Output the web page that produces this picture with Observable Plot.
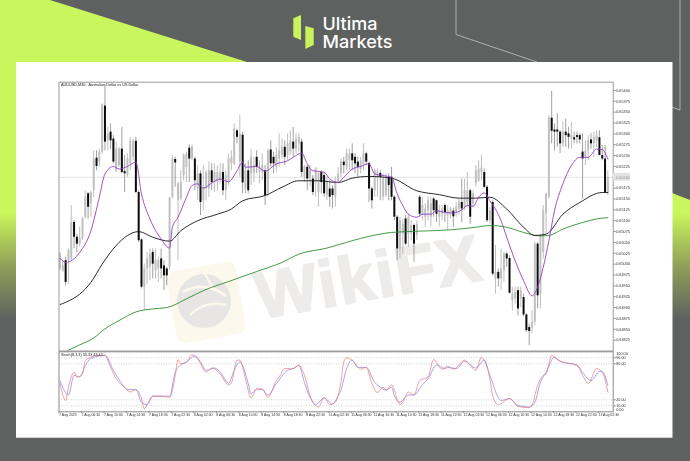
<!DOCTYPE html>
<html><head><meta charset="utf-8">
<style>
html,body{margin:0;padding:0;background:#5f6060;width:690px;height:461px;overflow:hidden}
.layer{position:absolute;left:0;top:0}
#top svg,#bot svg{filter:blur(.3px)}
</style>
<script src="https://cdn.jsdelivr.net/npm/d3@7"></script>
<script src="https://cdn.jsdelivr.net/npm/@observablehq/plot@0.6"></script>
</head><body>
<svg class="layer" width="690" height="461" viewBox="0 0 690 461">
  <defs><linearGradient id="g" gradientUnits="userSpaceOnUse" x1="0" x2="0" y1="213" y2="320">
    <stop offset="0" stop-color="#c9f65c"/><stop offset=".5" stop-color="#8f9f58"/><stop offset="1" stop-color="#5f6060"/></linearGradient></defs>
  <polygon points="0,0 50,0 247,62 16,62 16,330 0,330" fill="url(#g)"/>
  <polygon points="672,193 690,200 690,330 672,330" fill="url(#g)"/>
  <polyline points="456,0 456,34.5 537,62" fill="none" stroke="#c4c4c4" stroke-width=".8"/>
  <polyline points="672,107 680,110 680,0" fill="none" stroke="#c4c4c4" stroke-width=".8"/>
  <polygon points="293.3,18.3 301,15 301,40 293.3,36.7" fill="#c9f25c"/>
  <polygon points="305.3,26 313.7,28.3 313.7,45 305.3,49" fill="#c9f25c"/>
  <text x="322.5" y="30" font-family="Inter" font-weight="500" font-size="17.5" textLength="55" lengthAdjust="spacingAndGlyphs" fill="#fff">Ultima</text>
  <text x="322.5" y="47.7" font-family="Inter" font-weight="500" font-size="17.5" textLength="70" lengthAdjust="spacingAndGlyphs" fill="#fff">Markets</text>
  <rect x="16" y="62" width="656.5" height="375.7" fill="#fff"/>
  <rect x="171" y="266" width="70" height="73" rx="8" fill="#fcf8ec" transform="rotate(-10 206 302)"/>
  <circle cx="204" cy="301" r="27" fill="#e8e6e5"/>
  <path d="M183 292 Q205 280 226 296 M190 315 Q205 300 226 305 M205 274 L214 290" fill="none" stroke="#fcf8ec" stroke-width="2.5"/>
  <text x="260" y="319" transform="rotate(-10 260 319)" font-family="Liberation Sans" font-weight="700" font-size="66" letter-spacing="1.5" fill="#eeecea" stroke="#eeecea" stroke-width="2" stroke-linejoin="round">WikiFX</text>
</svg>
<div id="top" class="layer"></div>
<div id="bot" class="layer"></div>
<script>
const opens=[64989,64985,65008,65008,65012,65096,65062,65046,65058,65108,
65162,65139,65169,65244,65235,65258,65364,65284,65304,65288,
65215,65227,65265,65213,65204,65231,65246,65283,65165,65056,
64947,64989,64993,65027,64985,64989,65012,64996,64989,64993,
65154,65241,65146,65150,65204,65223,65267,65242,65242,65173,
65208,65146,65173,65173,65215,65188,65188,65192,65211,65169,
65188,65231,65231,65307,65235,65297,65173,65215,65208,65208,
65246,65211,65211,65215,65162,65263,65246,65223,65242,65250,
65269,65250,65258,65281,65265,65277,65281,65200,65223,65196,
65196,65192,65165,65211,65204,65158,65173,65173,65154,65188,
65208,65235,65223,65238,65254,65246,65235,65219,65227,65254,
65232,65173,65169,65200,65209,65154,65158,65200,65200,65154,
65108,65035,65069,65104,65069,65069,65089,65066,65154,65115,
65108,65123,65108,65150,65146,65108,65115,65135,65112,65115,
65122,65119,65127,65142,65131,65142,65169,65139,65185,65192,
65211,65211,65177,65100,65142,64966,64981,64966,64985,65023,
65013,64916,64920,64939,64920,64923,64883,64854,64853,64866,
65046,64931,65027,65115,65154,65336,65309,65309,65304,65277,
65304,65300,65288,65291,65296,65296,65258,65246,65261,65286,
65277,65284,65291,65250,65242,65165];
const highs=[65027,65008,65016,65035,65135,65100,65069,65085,65108,65169,
65165,65168,65261,65261,65265,65369,65411,65315,65323,65296,
65281,65269,65315,65250,65254,65292,65288,65292,65169,65058,
65000,65027,65035,65035,65035,65016,65035,65008,64993,65154,
65250,65246,65188,65215,65254,65258,65275,65273,65246,65227,
65215,65227,65215,65235,65231,65231,65227,65231,65231,65215,
65254,65261,65323,65311,65342,65304,65231,65238,65265,65246,
65261,65238,65254,65227,65265,65284,65258,65269,65300,65288,
65284,65300,65307,65315,65300,65300,65288,65227,65227,65227,
65204,65223,65211,65215,65211,65200,65192,65181,65200,65223,
65242,65246,65265,65265,65277,65254,65246,65246,65277,65258,
65235,65177,65219,65219,65215,65208,65208,65208,65223,65158,
65112,65108,65104,65112,65115,65100,65092,65100,65158,65154,
65139,65154,65154,65154,65148,65135,65135,65139,65135,65131,
65129,65142,65150,65196,65196,65211,65173,65169,65227,65238,
65250,65219,65181,65131,65146,65043,64989,65035,65027,65027,
65019,64947,64947,64947,64947,64931,64885,64862,64893,65050,
65050,65069,65135,65163,65342,65398,65323,65346,65307,65327,
65334,65315,65327,65304,65304,65300,65300,65284,65296,65300,
65304,65307,65307,65273,65273,65215];
const lows=[64985,64981,64950,64954,65008,65035,65027,65039,65054,65104,
65104,65108,65154,65215,65223,65254,65261,65261,65265,65231,
65211,65223,65208,65165,65200,65215,65238,65162,65050,64943,
64893,64954,64962,64966,64966,64958,64966,64939,64950,64985,
65150,65177,65008,65146,65192,65188,65188,65238,65169,65146,
65112,65123,65146,65154,65169,65165,65169,65185,65158,65146,
65181,65215,65227,65277,65200,65162,65162,65162,65181,65188,
65208,65185,65192,65135,65154,65223,65208,65211,65223,65242,
65227,65238,65250,65246,65254,65258,65200,65188,65169,65177,
65158,65154,65131,65162,65154,65146,65131,65127,65131,65185,
65200,65208,65215,65215,65215,65208,65200,65208,65215,65227,
65142,65127,65154,65154,65146,65146,65154,65146,65146,65100,
65008,65012,65023,65043,65039,65054,65004,65054,65108,65100,
65085,65100,65085,65108,65096,65085,65100,65096,65077,65104,
65085,65108,65112,65096,65123,65131,65092,65131,65177,65188,
65192,65173,65096,65092,64973,64931,64947,64939,64958,64993,
64931,64893,64908,64881,64900,64879,64843,64812,64839,64858,
64897,64897,65012,65069,65150,65277,65261,65269,65255,65269,
65269,65265,65265,65277,65277,65277,65150,65227,65238,65265,
65246,65269,65250,65238,65162,65158];
const closes=[65023,64996,64958,65031,65096,65062,65046,65060,65104,65154,
65131,65165,65242,65225,65258,65367,65281,65300,65284,65235,
65265,65265,65211,65208,65242,65282,65283,65165,65054,64947,
64989,65012,65023,65000,65008,65008,64989,64973,64973,65152,
65242,65233,65185,65188,65251,65254,65242,65269,65192,65208,
65142,65177,65211,65215,65188,65211,65211,65211,65169,65204,
65242,65246,65311,65292,65300,65187,65215,65169,65246,65227,
65223,65223,65227,65158,65261,65231,65231,65250,65261,65269,
65246,65277,65283,65265,65288,65292,65211,65223,65196,65219,
65165,65219,65208,65188,65162,65188,65154,65158,65188,65208,
65235,65227,65254,65254,65238,65231,65223,65238,65254,65235,
65173,65146,65215,65211,65200,65196,65200,65181,65154,65108,
65035,65100,65092,65046,65108,65089,65046,65092,65115,65135,
65127,65146,65139,65123,65115,65123,65127,65119,65123,65127,
65109,65131,65142,65127,65169,65169,65108,65162,65215,65219,
65221,65177,65100,65123,64977,64981,64966,64989,65023,65012,
64933,64931,64935,64897,64939,64883,64847,64845,64866,65046,
64927,65062,65123,65161,65338,65306,65304,65304,65277,65304,
65296,65292,65296,65286,65292,65286,65242,65261,65284,65277,
65292,65296,65250,65242,65165,65200];

const purpleBar=[0,2,7,11,14,16,19,21,24,27,29,32,36,39,40,42,45,47,49,51,54,57,60,63,65,66,70,73,77,81,83,86,88,90,94,96,99,101,104,107,110,112,115,118,120,122,124,127,129,132,134,137,140,143,145,147,149,151,153,157,159,162,165,168,170,172,174,176,179,182,185,188,191,193,195];
const purpleVal=[65014,65004,65027,65077,65154,65208,65225,65219,65225,65235,65162,65104,65058,65037,65085,65108,65154,65181,65185,65175,65187,65196,65190,65215,65235,65223,65225,65214,65231,65238,65246,65256,65231,65215,65212,65196,65188,65200,65219,65225,65231,65208,65204,65200,65162,65135,65115,65108,65115,65115,65123,65119,65118,65125,65135,65133,65154,65164,65146,65100,65062,65008,64962,64927,64947,64993,65054,65123,65185,65227,65246,65246,65265,65264,65242];
const blackBar=[0,2,7,11,15,20,24,28,33,39,43,49,56,61,65,73,79,85,92,99,104,110,118,127,135,142,148,153,159,165,169,173,179,185,193,195];
const blackVal=[64907,64912,64931,64958,65000,65043,65066,65075,65062,65053,65077,65100,65115,65127,65146,65158,65177,65192,65192,65188,65198,65202,65198,65169,65160,65152,65152,65154,65127,65085,65066,65069,65115,65142,65165,65165];
const greenBar=[2,7,12,16,21,27,33,38,45,51,60,70,79,85,95,104,110,118,128,139,148,153,159,165,171,174,179,185,193,195];
const greenVal=[64799,64814,64830,64851,64870,64890,64897,64900,64920,64939,64960,64983,65004,65023,65037,65054,65064,65073,65076,65079,65085,65089,65085,65073,65065,65066,65081,65094,65106,65107];

const redBar=[0,2,3,5,6,8,9,11,13,16,18,20,23,25,27,29,30,31,33,36,39,41,42,43,45,47,49,52,54,57,60,61,63,64,66,68,70,72,74,77,78,80,83,85,87,89,92,94,96,98,100,101,102,104,107,109,111,113,115,116,118,121,122,124,126,128,131,133,136,138,140,144,145,148,150,151,153,154,156,160,163,167,168,170,172,173,175,177,179,184,186,188,191,193,195];
const redVal=[47,19,41,66,58,63,85,91,94,94,74,55,41,33,37,22,5,12,26,26,24,60,87,80,83,95,88,66,73,63,45,48,86,86,55,23,38,38,24,52,58,72,72,78,61,27,8,24,12,16,50,83,90,86,71,74,47,32,41,36,45,12,16,33,28,52,58,87,71,76,71,86,83,69,91,86,55,27,12,22,9,7,11,44,61,63,94,87,83,77,61,47,72,66,33];
const blueBar=[0,3,5,7,9,11,16,19,22,24,27,29,31,33,39,41,43,45,48,50,52,55,57,60,62,64,67,68,70,72,74,77,81,83,85,87,89,91,94,97,99,100,102,104,106,109,112,114,116,118,119,121,124,126,129,131,134,137,138,141,144,148,151,153,157,160,163,167,169,171,173,176,178,184,186,189,192,193,195];
const blueVal=[52,28,61,58,77,89,94,69,47,37,37,16,12,26,26,66,78,83,93,83,69,73,66,48,69,83,47,30,38,37,28,47,69,72,77,49,24,12,23,13,27,36,72,86,74,74,49,41,36,41,27,16,28,28,45,55,78,72,74,72,84,73,86,61,19,22,11,8,16,49,66,91,84,78,66,52,67,67,44];

const priceTicks=[65400,65375,65350,65325,65300,65275,65250,65225,65175,65150,65125,65100,65075,65050,65025,65000,64975,64950,64925,64900,64875,64850,64825];
const lastPrice=[65200];
const stochLevels=[90,80,20,10];
const timeLabels=["7 Aug 2025","7 Aug 06:30","7 Aug 10:30","7 Aug 14:30","7 Aug 18:30","7 Aug 22:30","8 Aug 02:30","8 Aug 06:30","8 Aug 10:30","8 Aug 14:30","8 Aug 18:30","8 Aug 22:30","11 Aug 02:30","11 Aug 06:30","11 Aug 10:30","11 Aug 14:30","11 Aug 18:30","11 Aug 22:30","12 Aug 02:30","12 Aug 06:30","12 Aug 10:30","12 Aug 14:30","12 Aug 18:30","12 Aug 22:30","13 Aug 02:30"];
const timeBars=timeLabels.map((_,k)=>k*8);

const idx=d3.range(opens.length);
const up=idx.filter(i=>closes[i]>=opens[i]);
const dn=idx.filter(i=>closes[i]<opens[i]);
const xDomain=[-0.36,196.9];
const style={background:"transparent",fontFamily:"'Liberation Sans'",overflow:"visible"};
const ln=(b,v,c,w)=>Plot.line(b,{x:d=>d,y:(d,k)=>v[k],stroke:c,strokeWidth:w,curve:"monotone-x",clip:true});

const main=Plot.plot({
  width:690,height:351,marginLeft:58.5,marginRight:77.3,marginTop:81.7,marginBottom:.5,style,
  x:{domain:xDomain,axis:null},
  y:{domain:[64800,65419],axis:null},
  marks:[
    Plot.ruleY(lastPrice,{stroke:"#dcdcdc",strokeWidth:.8}),
    Plot.ruleX(up,{x:d=>d,y1:d=>lows[d],y2:d=>highs[d],stroke:"#a4a4a4",strokeWidth:.7}),
    Plot.ruleX(dn,{x:d=>d,y1:d=>lows[d],y2:d=>highs[d],stroke:"#777",strokeWidth:.7}),
    Plot.ruleX(up,{x:d=>d,y1:d=>opens[d],y2:d=>closes[d],stroke:"#c0c0c0",strokeWidth:2}),
    Plot.ruleX(dn,{x:d=>d,y1:d=>opens[d],y2:d=>closes[d],stroke:"#0c0c0c",strokeWidth:2}),
    ln(greenBar,greenVal,"#2f8f2f",.9),
    ln(blackBar,blackVal,"#141414",.9),
    ln(purpleBar,purpleVal,"#9140bf",.9),
    Plot.frame({stroke:"#9a9a9a",strokeWidth:1}),
    Plot.axisY(priceTicks,{anchor:"right",tickSize:2,tickPadding:1,fontSize:3.8,stroke:"#888",fill:"#333",tickFormat:d=>(d/1e5).toFixed(5)}),
    Plot.rectY(lastPrice,{x1:()=>xDomain[1],x2:()=>203,y1:d=>d-9,y2:d=>d+9,fill:"#e2e2e2",clip:false}),
    Plot.text(lastPrice,{x:()=>xDomain[1],y:d=>d,dx:3,text:d=>(d/1e5).toFixed(5),fontSize:3.8,textAnchor:"start",fill:"#9a9a9a"}),
    Plot.text(["AUDUSD,M30:  Australian Dollar vs US Dollar"],{frameAnchor:"top-left",dx:2,dy:1.5,fontSize:3.8,fill:"#222"})
  ]
});
document.getElementById("top").append(main);

const stoch=Plot.plot({
  width:690,height:461,marginLeft:58.5,marginRight:77.3,marginTop:351.3,marginBottom:49.7,style,
  x:{domain:xDomain,axis:null},
  y:{domain:[0,100],axis:null},
  marks:[
    Plot.ruleY(stochLevels,{stroke:"#a8a8a8",strokeWidth:.5,strokeDasharray:"1,1.5"}),
    ln(blueBar,blueVal,"#7f7fe0",.7),
    ln(redBar,redVal,"#e87a7a",.7),
    Plot.frame({stroke:"#8a8a8a",strokeWidth:1}),
    Plot.axisY(stochLevels,{anchor:"right",tickSize:2,tickPadding:1,fontSize:3.8,stroke:"#888",fill:"#333",tickFormat:d=>d.toFixed(2)}),
    Plot.axisY([100],{anchor:"right",tickSize:0,tickPadding:3,fontSize:3.8,dy:2,fill:"#333",tickFormat:d=>d.toFixed(2)}),
    Plot.axisY([0],{anchor:"right",tickSize:0,tickPadding:3,fontSize:3.8,dy:-2.3,fill:"#333",tickFormat:d=>d.toFixed(2)}),
    Plot.axisX(timeBars,{tickSize:1.5,tickPadding:.5,fontSize:3.5,stroke:"#888",fill:"#333",textAnchor:"start",dx:-1,tickFormat:(d,k)=>timeLabels[k]}),
    Plot.text(["Stoch(8,3,3) 30.33 43.42"],{frameAnchor:"top-left",dx:2,dy:1.5,fontSize:3.8,fill:"#222"})
  ]
});
document.getElementById("bot").append(stoch);
</script>
</body></html>
